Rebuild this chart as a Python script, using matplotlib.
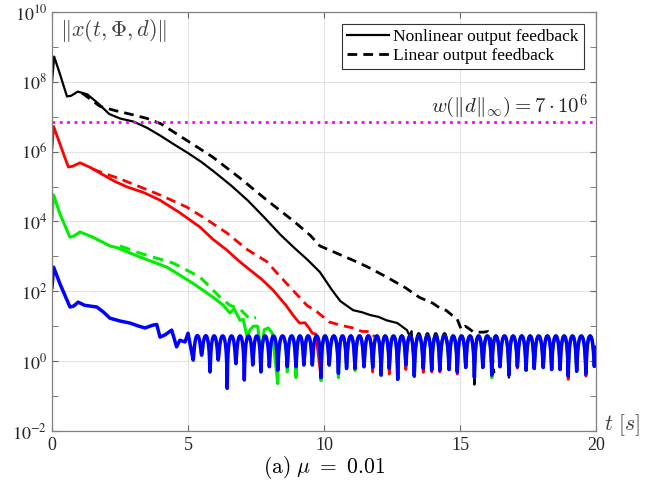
import numpy as np
import matplotlib
matplotlib.use('Agg')
import matplotlib.pyplot as plt

plt.rcParams['mathtext.fontset'] = 'cm'
plt.rcParams['font.family'] = ['Liberation Serif', 'DejaVu Serif']

# ===== DATA (t in s, values as log10 of the norm) =====
# transient parts
BLK_T = [0.0, 0.08, 0.3, 0.55, 0.7, 0.95, 1.3, 1.7, 2.1, 2.5, 3.0, 3.5, 4.0, 4.5, 5.0,
         5.5, 6.0, 6.6, 7.2, 7.8, 8.4, 8.9, 9.4, 9.85, 10.3, 10.6, 11.07, 11.4, 11.7,
         12.0, 12.3, 12.7, 13.05, 13.15, 13.22]
BLK_V = [8.0, 8.72, 8.2, 7.58, 7.6, 7.72, 7.64, 7.38, 7.08, 6.95, 6.86, 6.68, 6.45, 6.2, 5.96,
         5.7, 5.4, 5.02, 4.6, 4.12, 3.62, 3.25, 2.9, 2.55, 2.03, 1.72, 1.46, 1.4, 1.32,
         1.27, 1.17, 1.09, 0.89, 0.72, 0.86]

BLKD_T = [1.1, 1.5, 1.76, 2.3, 3.0, 3.5, 4.0, 4.5, 5.0, 5.9, 6.9, 7.9, 8.9, 9.5, 9.85,
          10.5, 11.07, 11.6, 12.3, 13.0, 13.5, 14.0, 14.26, 14.5, 14.7, 14.9, 15.05,
          15.2, 15.35, 15.5, 15.85, 16.03, 16.1, 16.2, 16.25]
BLKD_V = [7.68, 7.45, 7.3, 7.18, 7.05, 6.95, 6.8, 6.55, 6.3, 5.85, 5.25, 4.61, 4.0, 3.6, 3.3,
          3.08, 2.89, 2.7, 2.41, 2.1, 1.83, 1.66, 1.52, 1.45, 1.32, 1.2, 0.9,
          1.0, 0.92, 0.83, 0.83, 0.85, 0.75, 0.1, -0.35]

RED_T = [0.0, 0.06, 0.3, 0.6, 0.75, 1.03, 1.4, 1.76, 2.3, 2.76, 3.4, 3.97, 4.7, 5.44,
         5.9, 6.43, 6.9, 7.28, 7.7, 8.13, 8.38, 8.6, 8.86, 9.1, 9.3, 9.45, 9.57, 9.7]
RED_V = [6.1, 6.72, 6.2, 5.56, 5.58, 5.68, 5.55, 5.39, 5.15, 4.99, 4.82, 4.61, 4.25, 3.84,
         3.5, 3.18, 2.85, 2.61, 2.35, 2.03, 1.8, 1.6, 1.32, 1.09, 1.1, 0.95, 0.8, 0.78]

REDD_T = [1.5, 1.88, 2.5, 3.24, 4.0, 4.96, 5.7, 6.43, 7.17, 7.9, 8.3, 8.75, 9.37, 9.73,
          10.2, 10.6, 11.07, 11.4, 11.7, 11.85]
REDD_V = [5.5, 5.39, 5.22, 4.99, 4.75, 4.41, 4.05, 3.67, 3.2, 2.85, 2.5, 2.12, 1.6, 1.42,
          1.12, 1.03, 0.95, 0.85, 0.85, 0.7]

GRN_T = [0.0, 0.06, 0.3, 0.66, 0.8, 1.03, 1.5, 2.13, 2.39, 3.24, 4.23, 5.18, 5.92, 6.3,
         6.54, 6.7, 6.91, 7.03, 7.17, 7.28, 7.4, 7.56, 7.7, 7.8, 7.95, 8.1]
GRN_V = [4.1, 4.76, 4.2, 3.55, 3.58, 3.7, 3.55, 3.3, 3.25, 2.98, 2.69, 2.23, 1.83, 1.6,
         1.38, 1.5, 1.17, 1.2, 0.7, 0.9, 1.0, 1.0, 0.2, 0.9, 0.95, 0.8]

GRND_T = [2.5, 3.24, 4.45, 5.44, 6.18, 6.54, 6.9, 7.28, 7.5]
GRND_V = [3.3, 3.09, 2.81, 2.41, 1.83, 1.6, 1.5, 1.2, 1.25]

BLU_T = [0.0, 0.06, 0.3, 0.66, 0.8, 0.96, 1.2, 1.65, 1.9, 2.13, 2.5, 2.87, 3.2, 3.42,
         3.7, 3.85, 3.97, 4.15, 4.4, 4.58, 4.7, 4.89, 5.0]
BLU_V = [2.12, 2.69, 2.2, 1.55, 1.58, 1.69, 1.6, 1.55, 1.4, 1.23, 1.15, 1.09, 1.0, 0.95,
         1.03, 1.05, 0.69, 0.75, 0.89, 0.41, 0.6, 0.55, 0.8]

# steady ripple: dip times, dip depths (blue), peak level
DIP_T = [5.19, 5.50, 5.81, 6.11, 6.44, 6.76, 7.07, 7.38, 7.68, 7.99, 8.30, 8.65, 8.97,
         9.26, 9.57, 9.89, 10.19, 10.53, 10.83, 11.14, 11.47, 11.79, 12.10, 12.40, 12.71,
         13.01, 13.32, 13.65, 13.96, 14.26, 14.60, 14.90, 15.21, 15.53, 15.84, 16.17,
         16.47, 16.80, 17.11, 17.43, 17.73, 18.06, 18.37, 18.68, 18.98, 19.29, 19.63, 19.94]
DIP_BLUE = [0.03, 0.17, -0.31, 0.03, -0.78, -0.07, -0.54, -0.11, -0.31, -0.16, -0.26, -0.16,
            -0.16, -0.11, -0.11, -0.47, -0.11, -0.35, -0.21, -0.21, -0.16, -0.18, -0.40,
            -0.21, -0.52, -0.11, -0.43, -0.21, -0.26, -0.26, -0.24, -0.31, -0.18, -0.47,
            -0.18, -0.40, -0.16, -0.40, -0.16, -0.26, -0.21, -0.18, -0.24, -0.24, -0.43,
            -0.29, -0.37, -0.15]
PEAK = 0.72
BLK_PEAK = 0.8  # black solid rides slightly above the blue ripple for a while
T_END = 20.0

# deeper dips of the other curves that stick out below the blue one
GRN_TIP_T = [8.30, 8.65, 8.97, 9.89, 10.53, 11.14, 16.17]
GRN_TIP_V = [-0.64, -0.31, -0.47, -0.56, -0.47, -0.27, -0.47]
RED_TIP_T = [11.79, 12.40, 13.01, 13.65, 13.96, 14.26, 14.90, 16.17, 17.11, 18.98, 19.63]
RED_TIP_V = [-0.31, -0.37, -0.24, -0.32, -0.31, -0.31, -0.37, -0.47, -0.20, -0.52, -0.43]
BLK_TIP_T = [15.53, 16.80]
BLK_TIP_V = [-0.67, -0.47]

W_LEVEL = 7e6


def ripple(t_start, tip_t=(), tip_v=(), peak=PEAK, peak_until=None):
    """Ripple after t_start, following the listed dips."""
    dips = list(DIP_BLUE)
    for tt, vv in zip(tip_t, tip_v):
        dips[DIP_T.index(tt)] = vv
    i0 = DIP_T.index(t_start)
    ts, vs = [], []
    for i in range(i0, len(DIP_T)):
        t0 = DIP_T[i]
        if i + 1 < len(DIP_T):
            t1, d1 = DIP_T[i + 1], dips[i + 1]
        else:
            t1, d1 = t0 + (t0 - DIP_T[i - 1]), dips[i]
        pk = peak if (peak_until is None or t0 < peak_until) else PEAK
        f = np.linspace(0, 1, 20, endpoint=False)
        e = 10 ** (2 * (dips[i] - pk)) * (1 - f) + 10 ** (2 * (d1 - pk)) * f
        v = pk + 0.5 * np.log10(np.sin(np.pi * f) ** 2 + e)
        t = t0 + f * (t1 - t0)
        keep = t <= T_END
        ts.extend(t[keep])
        vs.extend(v[keep])
    return ts, vs


def series(t_list, v_list, t_start=None, tip_t=(), tip_v=(), **kw):
    t, v = list(t_list), list(v_list)
    if t_start is not None:
        rt, rv = ripple(t_start, tip_t, tip_v, **kw)
        t += rt
        v += rv
    return np.array(t), 10 ** np.array(v)


fig = plt.figure(figsize=(6.56, 4.91), dpi=100)
ax = fig.add_axes([0.0793, 0.1222, 0.8292, 0.8534])
ax.set_yscale('log')

# dashed (linear output feedback)
ax.plot(*series(BLKD_T, BLKD_V), color='black', lw=2.0, dashes=(3.5, 2.2))
ax.plot(*series(REDD_T, REDD_V), color='#ff0000', lw=2.0, dashes=(3.5, 2.2))
ax.plot(*series(GRND_T, GRND_V), color='#00ee00', lw=2.2, dashes=(3.5, 2.2))

# solid (nonlinear output feedback)
ax.plot(*series(BLK_T, BLK_V, 13.32, BLK_TIP_T, BLK_TIP_V, peak=BLK_PEAK, peak_until=14.5),
        color='black', lw=1.6)
ax.plot(*series(RED_T, RED_V, 9.89, RED_TIP_T, RED_TIP_V), color='#ff0000', lw=2.0)
ax.plot(*series(GRN_T, GRN_V, 8.30, GRN_TIP_T, GRN_TIP_V), color='#00ee00', lw=2.2)
ax.plot(*series(BLU_T, BLU_V, 5.19), color='#0000ff', lw=2.5)

ax.axhline(W_LEVEL, color='#ff00ff', ls=':', lw=2.0)

# legend with black handles
h1, = ax.plot([], [], color='black', lw=1.6)
h2, = ax.plot([], [], color='black', lw=2.0, dashes=(3.5, 2.2))
leg = ax.legend([h1, h2], ['Nonlinear output feedback', 'Linear output feedback'],
                loc='upper right', fontsize=12.5, fancybox=False, framealpha=1,
                edgecolor='#333333', borderaxespad=0.7, borderpad=0.3,
                labelspacing=0.15, handlelength=2.4, handletextpad=0.25)
leg.get_frame().set_linewidth(0.8)

ax.set_xlim(0, 20)
ax.set_ylim(1e-2, 1e10)
ax.set_xticks([0, 5, 10, 15, 20])
major = [1e-2, 1e0, 1e2, 1e4, 1e6, 1e8, 1e10]
ax.set_yticks(major, labels=[r'$10^{%d}$' % int(np.log10(m)) for m in major])
ax.set_yticks([1e-1, 1e1, 1e3, 1e5, 1e7, 1e9], minor=True)
ax.yaxis.set_minor_formatter(matplotlib.ticker.NullFormatter())
for lbl in ax.get_yticklabels():
    lbl.set_math_fontfamily('stix')
ax.tick_params(which='both', direction='in', top=True, right=True, length=4,
               color='#666666', labelsize=13, labelcolor='#262626')
ax.tick_params(axis='x', pad=4)
ax.grid(True, which='major', color='#e3e3e3', lw=0.8)
ax.set_axisbelow(True)
for sp in ax.spines.values():
    sp.set_color('#808080')
    sp.set_linewidth(0.9)

ax.text(0.015, 0.955, r'$\Vert x(t,\Phi,d)\Vert$', transform=ax.transAxes,
        fontsize=16, color='#404040', va='center', ha='left')
ax.text(0.985, 0.773, r'$w(\Vert d\Vert_\infty) = 7\cdot 10^6$', transform=ax.transAxes,
        fontsize=15, color='#262626', va='center', ha='right')
ax.text(1.015, 0.015, r'$t\ [s]$', transform=ax.transAxes,
        fontsize=15.5, color='#404040', va='center', ha='left')
fig.text(0.494, 0.048, r'$\mathrm{(a)}\ \mu\ =\ 0.01$', fontsize=15.5,
         ha='center', va='center')

plt.savefig('out.png', dpi=100)
